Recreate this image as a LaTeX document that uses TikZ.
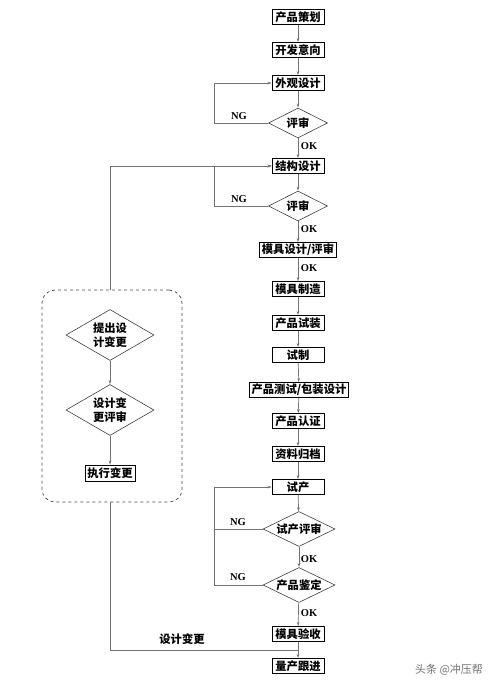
\documentclass[tikz,border=0pt]{standalone}
\usepackage{fontspec}
\setmainfont{Liberation Serif}
\newfontfamily\cjk{Noto Sans CJK SC}
\usetikzlibrary{shapes.geometric,arrows.meta}
\begin{document}
\begin{tikzpicture}[x=1pt,y=-1pt,
 box/.style={draw=black,line width=0.9pt,inner xsep=2pt,inner ysep=0pt,minimum height=15pt,minimum width=52pt,font=\cjk\bfseries\fontsize{11.3}{12}\selectfont},
 dia/.style={draw=black!75,line width=0.6pt,diamond,inner sep=0pt,align=center,font=\cjk\bfseries\fontsize{11.3}{14}\selectfont},
 conn/.style={draw=black!55,line width=0.7pt},
 arr/.style={conn,-{Stealth[length=4pt,width=2.6pt]}},
 lab/.style={font=\bfseries\fontsize{10.5}{11}\selectfont},
 clab/.style={font=\cjk\bfseries\fontsize{11.3}{12}\selectfont}
]
\useasboundingbox[fill=white] (0,0) rectangle (500,688);
% main column
\node[box] (p1) at (298,17) {产品策划};
\node[box] (p2) at (298,50) {开发意向};
\node[box] (p3) at (298,83) {外观设计};
\node[dia,shape aspect=2,minimum width=59pt,minimum height=30pt] (d1) at (298,123) {评审};
\node[box] (p4) at (298,166) {结构设计};
\node[dia,shape aspect=2,minimum width=59pt,minimum height=30pt] (d2) at (298,206) {评审};
\node[box] (p5) at (298,250) {模具设计/评审};
\node[box] (p6) at (298,289) {模具制造};
\node[box] (p7) at (298,323) {产品试装};
\node[box] (p8) at (298,355) {试制};
\node[box] (p9) at (299,390) {产品测试/包装设计};
\node[box] (p10) at (298,421) {产品认证};
\node[box] (p11) at (298,454) {资料归档};
\node[box] (p12) at (298,487) {试产};
\node[dia,shape aspect=2,minimum width=72pt,minimum height=35pt] (d3) at (299,529) {试产评审};
\node[dia,shape aspect=2,minimum width=72pt,minimum height=35pt] (d4) at (299,585) {产品鉴定};
\node[box] (p13) at (298,634) {模具验收};
\node[box] (p14) at (298,666) {量产跟进};
% left block
\node[draw=black!70,dashed,line width=0.7pt,rounded corners=13pt,minimum width=140pt,minimum height=212pt] (lbox) at (112,396) {};
\node[dia,shape aspect=1.7,minimum width=88pt,minimum height=51pt] (l1) at (110,335) {提出设\\计变更};
\node[dia,shape aspect=1.7,minimum width=88pt,minimum height=51pt] (l2) at (110,410) {设计变\\更评审};
\node[box,minimum width=50pt,minimum height=16pt] (l3) at (110,473) {执行变更};
\coordinate (nx) at (214,0);
\coordinate (bj) at (298,650);
\coordinate (bl) at (110,650);
% main connectors
\draw[arr] (p1) -- (p2);
\draw[arr] (p2) -- (p3);
\draw[arr] (p3) -- (d1);
\draw[arr] (d1) -- (p4);
\draw[arr] (p4) -- (d2);
\draw[arr] (d2) -- (p5);
\draw[arr] (p5) -- (p6);
\draw[arr] (p6) -- (p7);
\draw[arr] (p7) -- (p8);
\draw[arr] (p8) -- (p9);
\draw[arr] (p9) -- (p10);
\draw[arr] (p10) -- (p11);
\draw[arr] (p11) -- (p12);
\draw[arr] (p12) -- (d3);
\draw[arr] (d3) -- (d4);
\draw[arr] (d4) -- (p13);
\draw[arr] (p13) -- (p14);
% NG loops
\draw[arr] (d1.west) -- (d1.west -| nx) |- (p3.west);
\draw[arr] (d2.west) -- (d2.west -| nx) |- (p4.west);
\draw[arr] (d3.west) -- (d3.west -| nx) |- (p12.west);
\draw[conn] (d4.west) -- (d4.west -| nx) -- (d3.west -| nx);
% labels
\node[lab] (ok1) at (309,146) {OK};
\node[lab] (ok2) at (309,229) {OK};
\node[lab] (ok3) at (309,268) {OK};
\node[lab] (ok4) at (309,559) {OK};
\node[lab] (ok5) at (309,613) {OK};
\node[lab] (ng1) at (239,116) {NG};
\node[lab] (ng2) at (239,199) {NG};
\node[lab] (ng3) at (238,522) {NG};
\node[lab] (ng4) at (238,577) {NG};
% left connectors
\draw[arr] (l1.north |- lbox.north) -- (l1.north |- p4.west) -- (p4.west);
\draw[arr] (l1) -- (l2);
\draw[arr] (l2) -- (l3);
\draw[conn] (l1.south |- lbox.south) -- (bl) -- (bj);
\node[clab] (dc) at (182,639) {设计变更};
% watermark
\node[font=\cjk\fontsize{11}{12}\selectfont,text=black!55] (wm) at (449,670) {头条 @冲压帮};
\end{tikzpicture}
\end{document}
